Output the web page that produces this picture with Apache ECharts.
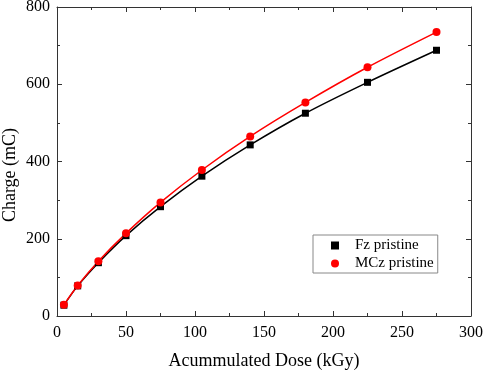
<!DOCTYPE html>
<html>
<head>
<meta charset="utf-8">
<script src="https://cdn.jsdelivr.net/npm/echarts@6/dist/echarts.min.js"></script>
<style>
  html, body { margin: 0; padding: 0; background: #fff; }
  #chart { width: 484px; height: 370px; }
</style>
</head>
<body>
<div id="chart"></div>
<script>
// dose values (kGy)
const dose = [5, 15, 30, 50, 75, 105, 140, 180, 225, 275]
// collected charge (mC)
const fzCharge = [28, 78, 138, 208, 283, 362, 443, 525, 605, 688]
const mczCharge = [29, 79, 142, 214, 294, 378, 465, 553, 644, 735]

const font = 'Liberation Serif'

const pairs = (ys) => dose.map((x, i) => [x, ys[i]])

const chart = echarts.init(document.getElementById('chart'))

const tickStyle = { show: true, inside: true, length: 5, lineStyle: { color: '#333', width: 1 } }
const minorStyle = { show: true, splitNumber: 2, length: 3, lineStyle: { color: '#333', width: 1 } }
const lineStyle = { show: true, onZero: false, lineStyle: { color: '#333', width: 1 } }

chart.setOption({
  animation: false,
  grid: { left: 57, right: 13, top: 7, bottom: 54, containLabel: false, outerBoundsMode: 'none' },
  legend: {
    orient: 'vertical',
    left: 313,
    top: 235,
    padding: [3, 4, 2, 18],
    itemGap: 3,
    itemWidth: 8,
    itemHeight: 8,
    borderColor: '#888',
    borderWidth: 1,
    textStyle: { fontFamily: font, fontSize: 15, color: '#000', padding: [0, 0, 0, 11] },
    data: [
      { name: 'Fz pristine', icon: 'rect' },
      { name: 'MCz pristine', icon: 'circle' }
    ]
  },
  xAxis: [
    {
      type: 'value', min: 0, max: 300, interval: 50,
      name: 'Acummulated Dose (kGy)', nameLocation: 'middle', nameGap: 36,
      nameMoveOverlap: false,
      nameTextStyle: { fontFamily: font, fontSize: 18, color: '#000' },
      axisLine: lineStyle,
      axisTick: tickStyle, minorTick: minorStyle,
      axisLabel: { fontFamily: font, fontSize: 16, color: '#000', margin: 9 },
      splitLine: { show: false }
    },
    {
      type: 'value', min: 0, max: 300, interval: 50, position: 'top',
      axisLine: lineStyle,
      axisTick: tickStyle, minorTick: minorStyle,
      axisLabel: { show: false }, splitLine: { show: false }
    }
  ],
  yAxis: [
    {
      type: 'value', min: 0, max: 800, interval: 200,
      name: 'Charge (mC)', nameLocation: 'middle', nameGap: 38,
      nameMoveOverlap: false,
      nameTextStyle: { fontFamily: font, fontSize: 18, color: '#000', padding: [0, 27, 0, 0] },
      axisLine: lineStyle,
      axisTick: tickStyle, minorTick: minorStyle,
      axisLabel: { fontFamily: font, fontSize: 16, color: '#000', margin: 7 },
      splitLine: { show: false }
    },
    {
      type: 'value', min: 0, max: 800, interval: 200, position: 'right',
      axisLine: lineStyle,
      axisTick: tickStyle, minorTick: minorStyle,
      axisLabel: { show: false }, splitLine: { show: false }
    }
  ],
  series: [
    {
      name: 'Fz pristine',
      type: 'line',
      data: pairs(fzCharge),
      smooth: 0.3,
      symbol: 'rect',
      symbolSize: 7,
      itemStyle: { color: '#000' },
      lineStyle: { color: '#000', width: 1.5 }
    },
    {
      name: 'MCz pristine',
      type: 'line',
      data: pairs(mczCharge),
      smooth: 0.3,
      symbol: 'circle',
      symbolSize: 8,
      itemStyle: { color: '#ff0000' },
      lineStyle: { color: '#ff0000', width: 1.5 }
    }
  ]
})
</script>
</body>
</html>
